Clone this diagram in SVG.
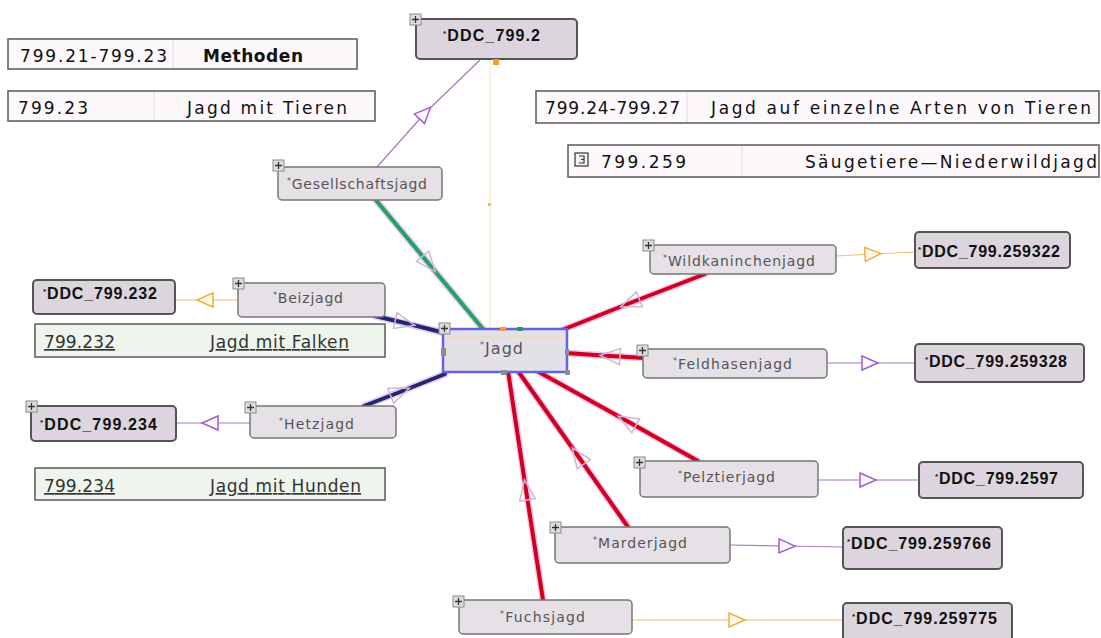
<svg xmlns="http://www.w3.org/2000/svg" xmlns:xlink="http://www.w3.org/1999/xlink" width="1101" height="638" viewBox="0 0 1101 638">
<style>
.tb{fill:#fcf8fc;stroke:#5a5a5a;stroke-width:1.5}
.tg{fill:#eef5ec;stroke:#5a5a5a;stroke-width:1.5}
.dv{stroke:#e4dce4;stroke-width:1}
.tt{font-family:"DejaVu Sans","Liberation Sans",sans-serif;font-size:17px;fill:#111}
.tm{font-family:"DejaVu Sans","Liberation Sans",sans-serif;font-size:17px;fill:#111;font-weight:bold}
.tu{font-family:"DejaVu Sans","Liberation Sans",sans-serif;font-size:17px;fill:#333;text-decoration:underline}
.n{fill:#e6e1e7;stroke:#777;stroke-width:1.5}
.d{fill:#dcd5dd;stroke:#555;stroke-width:2}
.nl{font-family:"DejaVu Sans","Liberation Sans",sans-serif;font-size:14px;fill:#555}
.dl{font-family:"Liberation Sans",Arial,sans-serif;font-size:16px;font-weight:bold;fill:#111}
.ast{font-size:8px}
.halo{fill:none;stroke:#e48cf0;stroke-width:7;opacity:.5;stroke-linecap:round}
.thick{fill:none;stroke-width:4;stroke-linecap:round;marker-mid:url(#ah)}
.red{stroke:#cf0018}
.navy{stroke:#1e2a6c}
.green{stroke:#1ea463}
.tp{fill:none;stroke:#a878c0;stroke-width:1.2;marker-mid:url(#ap)}
.to{fill:none;stroke:#f0c070;stroke-width:1.2;marker-mid:url(#ao)}
.hd{fill:#8c8c8c}
</style>
<defs>
<marker id="ah" markerUnits="userSpaceOnUse" viewBox="-12 -10 24 20" markerWidth="24" markerHeight="20" orient="auto"><path d="M-10,-8 L10,0 L-10,8 Z" fill="none" stroke="#cdb8d0" stroke-width="1.5"/></marker>
<marker id="ap" markerUnits="userSpaceOnUse" viewBox="-10 -9 20 18" markerWidth="20" markerHeight="18" orient="auto"><path d="M-8,-7 L8,0 L-8,7 Z" fill="#fbf6fc" stroke="#a060c8" stroke-width="1.5"/></marker>
<marker id="ao" markerUnits="userSpaceOnUse" viewBox="-10 -9 20 18" markerWidth="20" markerHeight="18" orient="auto"><path d="M-8,-7 L8,0 L-8,7 Z" fill="#fff8e6" stroke="#f0b040" stroke-width="1.5"/></marker>
<g id="plus"><rect width="11" height="11" fill="#dedede" stroke="#8a8a8a" stroke-width="1"/><path d="M2,5.5 H9 M5.5,2 V9" stroke="#333" stroke-width="1.3"/></g>
</defs>
<rect width="1101" height="638" fill="#ffffff"/>

<g id="tables">
<g id="t-methoden"><rect class="tb" x="8" y="39" width="349" height="30"/><line class="dv" x1="173" y1="40" x2="173" y2="68"/><text class="tt" x="20" y="62" textLength="147" lengthAdjust="spacing">799.21-799.23</text><text class="tm" x="203" y="62" textLength="100" lengthAdjust="spacing">Methoden</text></g>
<g id="t-tieren"><rect class="tb" x="8" y="91" width="367" height="30"/><line class="dv" x1="154" y1="92" x2="154" y2="120"/><text class="tt" x="18" y="114" textLength="70" lengthAdjust="spacing">799.23</text><text class="tt" x="187" y="114" textLength="160" lengthAdjust="spacing">Jagd mit Tieren</text></g>
<g id="t-arten"><rect class="tb" x="536" y="91" width="563" height="32"/><line class="dv" x1="687" y1="92" x2="687" y2="122"/><text class="tt" x="545" y="114" textLength="135" lengthAdjust="spacing">799.24-799.27</text><text class="tt" x="711" y="114" textLength="380" lengthAdjust="spacing">Jagd auf einzelne Arten von Tieren</text></g>
<g id="t-saeuge"><rect class="tb" x="568" y="145" width="531" height="32"/><line class="dv" x1="742" y1="146" x2="742" y2="176"/><rect x="575" y="153" width="13" height="13" fill="#f4f4f4" stroke="#333" stroke-width="1.2"/><path d="M579,156 H584 V163 H579 M581,159.5 H584" fill="none" stroke="#333" stroke-width="1.2"/><text class="tt" x="601" y="168" textLength="85" lengthAdjust="spacing">799.259</text><text class="tt" x="805" y="168" textLength="292" lengthAdjust="spacing">Säugetiere—Niederwildjagd</text></g>
<g id="t-falken"><rect class="tg" x="35" y="324" width="350" height="33"/><text class="tu" x="44" y="348" textLength="71" lengthAdjust="spacing">799.232</text><text class="tu" x="210" y="348" textLength="139" lengthAdjust="spacing">Jagd mit Falken</text></g>
<g id="t-hunden"><rect class="tg" x="35" y="468" width="350" height="32"/><text class="tu" x="44" y="492" textLength="71" lengthAdjust="spacing">799.234</text><text class="tu" x="210" y="492" textLength="151" lengthAdjust="spacing">Jagd mit Hunden</text></g>
</g>

<g id="connectors">
<line x1="490" y1="60" x2="490" y2="329" stroke="#f4e6c0" stroke-width="1"/>
<rect x="488" y="203" width="3" height="3" fill="#f0c060"/>
<path class="tp" d="M377,167 L425,113 L480,60"/>
<path class="to" d="M238,300 L205,300 L175,300"/>
<path class="tp" d="M250,423 L210,423 L176,423"/>
<path class="to" d="M836,256 L873,254 L915,252"/>
<path class="tp" d="M827,363 L870,363 L915,363"/>
<path class="tp" d="M818,480 L868,480 L919,480"/>
<path class="tp" d="M730,545 L787,546 L843,547"/>
<path class="to" d="M632,620 L737,620 L843,620"/>
<g id="halos">
<path class="halo" d="M375,199 L483,329"/>
<path class="halo" d="M375,316 L445,333"/>
<path class="halo" d="M364,406 L445,374"/>
<path class="halo" d="M705,274 L562,330"/>
<path class="halo" d="M645,358 L566,353"/>
<path class="halo" d="M698,461 L537,371"/>
<path class="halo" d="M628,527 L518,371"/>
<path class="halo" d="M543,600 L508,371"/>
</g>
<path class="thick green" d="M375,199 L429,264 L483,329"/>
<path class="thick navy" d="M375,316 L405,323 L445,333"/>
<path class="thick navy" d="M364,406 L400,392 L445,374"/>
<path class="thick red" d="M705,274 L630,303 L562,330"/>
<path class="thick red" d="M645,358 L610,356 L566,353"/>
<path class="thick red" d="M698,461 L627,421 L537,371"/>
<path class="thick red" d="M628,527 L578,456 L518,371"/>
<path class="thick red" d="M543,600 L526,490 L508,371"/>
</g>

<g id="n-ddc7992"><rect class="d" x="416" y="19" width="161" height="40" rx="4"/><text class="dl" x="443" y="41" textLength="97" lengthAdjust="spacing"><tspan class="ast" dy="-5">*</tspan><tspan dy="5">DDC_799.2</tspan></text><use xlink:href="#plus" x="410" y="14"/><rect x="493" y="59" width="6" height="6" fill="#f0a020"/></g>
<g id="n-gesellschaftsjagd"><rect class="n" x="278" y="167" width="164" height="33" rx="4"/><text class="nl" x="287" y="189" textLength="140" lengthAdjust="spacing"><tspan class="ast" dy="-5">*</tspan><tspan dy="5">Gesellschaftsjagd</tspan></text><use xlink:href="#plus" x="273" y="160"/></g>
<g id="n-beizjagd"><rect class="n" x="238" y="283" width="147" height="34" rx="4"/><text class="nl" x="273" y="303" textLength="70" lengthAdjust="spacing"><tspan class="ast" dy="-5">*</tspan><tspan dy="5">Beizjagd</tspan></text><use xlink:href="#plus" x="233" y="278"/></g>
<g id="n-ddc799232"><rect class="d" x="33" y="280" width="142" height="34" rx="4"/><text class="dl" x="43" y="299" textLength="114" lengthAdjust="spacing"><tspan class="ast" dy="-5">*</tspan><tspan dy="5">DDC_799.232</tspan></text></g>
<g id="n-hetzjagd"><rect class="n" x="250" y="406" width="146" height="32" rx="4"/><text class="nl" x="279" y="429" textLength="75" lengthAdjust="spacing"><tspan class="ast" dy="-5">*</tspan><tspan dy="5">Hetzjagd</tspan></text><use xlink:href="#plus" x="245" y="402"/></g>
<g id="n-ddc799234"><rect class="d" x="31" y="406" width="145" height="35" rx="4"/><text class="dl" x="40" y="430" textLength="117" lengthAdjust="spacing"><tspan class="ast" dy="-5">*</tspan><tspan dy="5">DDC_799.234</tspan></text><use xlink:href="#plus" x="26" y="401"/></g>
<g id="n-jagd"><rect x="443" y="329" width="124" height="43" fill="#e4e0e8" stroke="#6464e0" stroke-width="2.5"/><line x1="445" y1="337" x2="565" y2="337" stroke="#f2d9a0" stroke-width="1"/><text class="nl" x="480" y="354" style="font-size:16px" textLength="43" lengthAdjust="spacing"><tspan class="ast" dy="-6">*</tspan><tspan dy="6">Jagd</tspan></text><use xlink:href="#plus" x="439" y="323"/><rect class="hd" x="441" y="348" width="5" height="8"/><rect class="hd" x="501" y="370" width="6" height="5"/><rect class="hd" x="565" y="370" width="5" height="5"/><rect class="hd" x="565" y="349" width="4" height="6"/><rect x="500" y="327" width="6" height="4" fill="#f0a020"/><rect x="517" y="327" width="6" height="4" fill="#20a060"/></g>
<g id="n-wildkaninchenjagd"><rect class="n" x="650" y="245" width="186" height="29" rx="4"/><text class="nl" x="663" y="266" textLength="152" lengthAdjust="spacing"><tspan class="ast" dy="-5">*</tspan><tspan dy="5">Wildkaninchenjagd</tspan></text><use xlink:href="#plus" x="643" y="240"/></g>
<g id="n-ddc799259322"><rect class="d" x="915" y="232" width="155" height="36" rx="4"/><text class="dl" x="918" y="257" textLength="142" lengthAdjust="spacing"><tspan class="ast" dy="-5">*</tspan><tspan dy="5">DDC_799.259322</tspan></text></g>
<g id="n-feldhasenjagd"><rect class="n" x="643" y="349" width="184" height="29" rx="4"/><text class="nl" x="673" y="369" textLength="119" lengthAdjust="spacing"><tspan class="ast" dy="-5">*</tspan><tspan dy="5">Feldhasenjagd</tspan></text><use xlink:href="#plus" x="637" y="345"/></g>
<g id="n-ddc799259328"><rect class="d" x="915" y="344" width="169" height="38" rx="4"/><text class="dl" x="925" y="367" textLength="142" lengthAdjust="spacing"><tspan class="ast" dy="-5">*</tspan><tspan dy="5">DDC_799.259328</tspan></text></g>
<g id="n-pelztierjagd"><rect class="n" x="640" y="461" width="178" height="36" rx="4"/><text class="nl" x="678" y="482" textLength="97" lengthAdjust="spacing"><tspan class="ast" dy="-5">*</tspan><tspan dy="5">Pelztierjagd</tspan></text><use xlink:href="#plus" x="634" y="457"/></g>
<g id="n-ddc7992597"><rect class="d" x="919" y="462" width="164" height="36" rx="4"/><text class="dl" x="935" y="484" textLength="123" lengthAdjust="spacing"><tspan class="ast" dy="-5">*</tspan><tspan dy="5">DDC_799.2597</tspan></text></g>
<g id="n-marderjagd"><rect class="n" x="555" y="527" width="175" height="36" rx="4"/><text class="nl" x="593" y="548" textLength="94" lengthAdjust="spacing"><tspan class="ast" dy="-5">*</tspan><tspan dy="5">Marderjagd</tspan></text><use xlink:href="#plus" x="550" y="522"/></g>
<g id="n-ddc799259766"><rect class="d" x="843" y="527" width="159" height="42" rx="4"/><text class="dl" x="847" y="549" textLength="144" lengthAdjust="spacing"><tspan class="ast" dy="-5">*</tspan><tspan dy="5">DDC_799.259766</tspan></text></g>
<g id="n-fuchsjagd"><rect class="n" x="459" y="600" width="173" height="34" rx="4"/><text class="nl" x="500" y="622" textLength="85" lengthAdjust="spacing"><tspan class="ast" dy="-5">*</tspan><tspan dy="5">Fuchsjagd</tspan></text><use xlink:href="#plus" x="453" y="596"/></g>
<g id="n-ddc799259775"><rect class="d" x="843" y="603" width="169" height="42" rx="4"/><text class="dl" x="852" y="624" textLength="145" lengthAdjust="spacing"><tspan class="ast" dy="-5">*</tspan><tspan dy="5">DDC_799.259775</tspan></text></g>
</svg>
